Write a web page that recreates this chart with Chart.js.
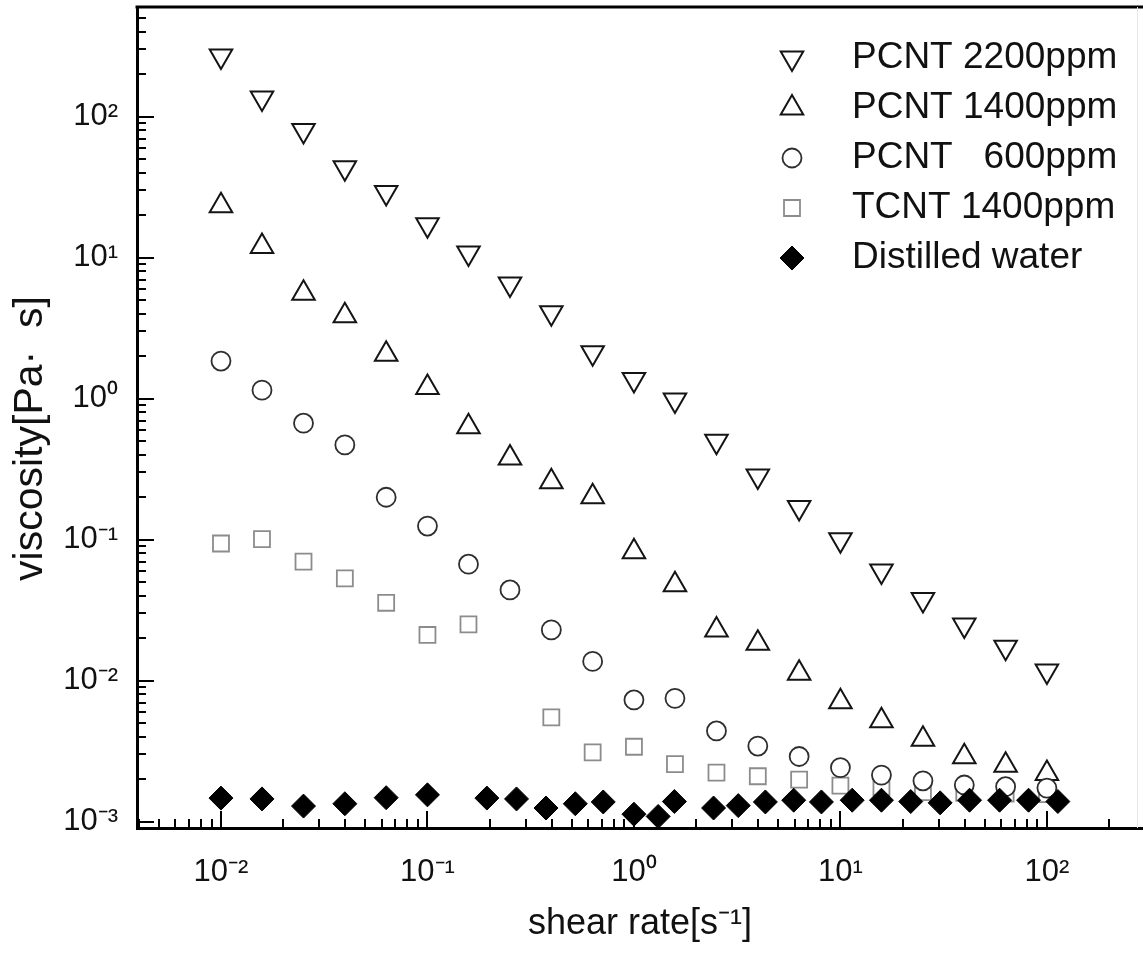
<!DOCTYPE html>
<html>
<head>
<meta charset="utf-8">
<title>viscosity vs shear rate</title>
<style>
    html, body { margin: 0; padding: 0; background: #fff; overflow: hidden; }
    #wrap { width: 1143px; height: 969px; position: relative; }
    #ViscosityChart { display: block; }
</style>
<script src="https://cdn.jsdelivr.net/npm/chart.js@4.4.1/dist/chart.umd.min.js"></script>
</head>
<body>
<div id="wrap"><canvas id="ViscosityChart"></canvas></div>
<script>
// shear rate steps of the CNT runs [1/s]
var shearRate = [0.01, 0.0158, 0.0251, 0.0398, 0.0631, 0.1, 0.158, 0.251, 0.398, 0.631,
    1, 1.58, 2.51, 3.98, 6.31, 10, 15.8, 25.1, 39.8, 63.1, 100];

// viscosity [Pa s]
var pcnt2200 = [269, 136, 80, 43.5, 29, 17.1, 10.8, 6.5, 4.07, 2.12,
    1.37, 0.98, 0.50, 0.283, 0.169, 0.100, 0.060, 0.0377, 0.0248, 0.0173, 0.0117];
var pcnt1400 = [23.4, 12.0, 5.6, 3.88, 2.07, 1.20, 0.633, 0.38, 0.258, 0.202,
    0.082, 0.048, 0.0229, 0.0184, 0.0113, 0.0071, 0.0052, 0.00384, 0.00289, 0.00251, 0.0022];
var pcnt600 = [1.85, 1.15, 0.67, 0.47, 0.2, 0.125, 0.067, 0.044, 0.0229, 0.0137,
    0.0073, 0.0075, 0.0044, 0.00344, 0.0029, 0.00242, 0.00214, 0.00195, 0.00182, 0.00177, 0.00173];
// no TCNT point at 0.251
var tcnt1400 = [0.094, 0.101, 0.0698, 0.0532, 0.0357, 0.0211, 0.0251, null, 0.0055, 0.0031,
    0.0034, 0.00256, 0.00223, 0.0021, 0.00199, 0.0018, 0.00176, 0.00162, 0.0016, 0.00158, 0.00157];

// distilled water was measured on its own rate steps
var waterRate = [0.01, 0.0158, 0.0251, 0.0398, 0.0631, 0.1, 0.194, 0.27, 0.375, 0.52,
    0.71, 1.0, 1.31, 1.57, 2.43, 3.2, 4.33, 5.94, 8.09, 11.4, 15.8, 21.9, 30.4, 42.2, 59, 81.5, 113];
var waterVisc = [0.00147, 0.00145, 0.00129, 0.00134, 0.00148, 0.00155, 0.00147, 0.00145, 0.00125, 0.00134,
    0.00138, 0.00113, 0.00109, 0.00139, 0.00125, 0.0013, 0.00138, 0.00142, 0.00138, 0.00142,
    0.00142, 0.00139, 0.00136, 0.00142, 0.00142, 0.00142, 0.00139];

var seriesNames = ['PCNT 2200ppm', 'PCNT 1400ppm', 'PCNT   600ppm', 'TCNT 1400ppm', 'Distilled water'];

var fontFamily = "'Liberation Sans', Arial, Helvetica, sans-serif";
var superDigits = { '-': '\u207B', '0': '\u2070', '1': '\u00B9', '2': '\u00B2', '3': '\u00B3',
    '4': '\u2074', '5': '\u2075', '6': '\u2076', '7': '\u2077', '8': '\u2078', '9': '\u2079' };

function pairUp(xs, ys) {
    return xs.map(function (x, i) { return { x: x, y: ys[i] }; });
}

function isDecade(v) {
    var e = Math.log10(v);
    return Math.abs(e - Math.round(e)) < 1e-6;
}

function decadeLabel(v) {
    if (!isDecade(v)) {
        return '';
    }
    var exp = String(Math.round(Math.log10(v)));
    return '10' + exp.split('').map(function (c) { return superDigits[c]; }).join('');
}

// 1..9 x 10^k inside the axis range
function logTicks(scale) {
    var ticks = [];
    var k0 = Math.floor(Math.log10(scale.min));
    var k1 = Math.ceil(Math.log10(scale.max));
    for (var k = k0; k <= k1; k++) {
        for (var m = 1; m <= 9; m++) {
            var v = parseFloat((m * Math.pow(10, k)).toPrecision(6));
            if (v >= scale.min && v <= scale.max) {
                ticks.push({ value: v });
            }
        }
    }
    scale.ticks = ticks;
}

// no label overhang padding, the frame fills the canvas like the original
function fixBox(size) {
    return function (scale) {
        if (scale.isHorizontal()) {
            scale.height = size;
        } else {
            scale.width = size;
        }
        scale.paddingLeft = 0;
        scale.paddingRight = 0;
        scale.paddingTop = 0;
        scale.paddingBottom = 0;
    };
}

// Origin-style ticks pointing into the plot, plus the top frame line
var insideTicks = {
    id: 'insideTicks',
    beforeDatasetsDraw: function (chart) {
        var ctx = chart.ctx;
        var area = chart.chartArea;
        var x = chart.scales.x;
        var y = chart.scales.y;

        ctx.save();
        ctx.strokeStyle = '#000';
        ctx.lineWidth = 2;
        x.ticks.forEach(function (t) {
            var px = Math.round(x.getPixelForValue(t.value));
            var len = isDecade(t.value) ? 17 : 9;
            ctx.beginPath();
            ctx.moveTo(px, area.bottom);
            ctx.lineTo(px, area.bottom - len);
            ctx.stroke();
        });
        y.ticks.forEach(function (t) {
            var py = Math.round(y.getPixelForValue(t.value));
            var len = isDecade(t.value) ? 17 : 9;
            ctx.beginPath();
            ctx.moveTo(area.left, py);
            ctx.lineTo(area.left + len, py);
            ctx.stroke();
        });

        ctx.lineWidth = 3;
        ctx.beginPath();
        ctx.moveTo(area.left - 1.5, area.top);
        ctx.lineTo(chart.width, area.top);
        ctx.stroke();

        ctx.strokeStyle = '#e6e6e6';
        ctx.lineWidth = 1;
        ctx.beginPath();
        ctx.moveTo(area.right - 5.5, area.top);
        ctx.lineTo(area.right - 5.5, area.bottom);
        ctx.stroke();
        ctx.restore();
    }
};

// rotated y title, sits a little below the middle of the axis in the original
var yTitle = {
    id: 'yTitle',
    afterDraw: function (chart) {
        var ctx = chart.ctx;
        var area = chart.chartArea;
        ctx.save();
        ctx.translate(42, (area.top + area.bottom) / 2 + 21);
        ctx.rotate(-Math.PI / 2);
        ctx.fillStyle = '#111';
        ctx.font = '41px ' + fontFamily;
        ctx.textAlign = 'center';
        ctx.textBaseline = 'alphabetic';
        ctx.fillText('viscosity[Pa\u00B7  s]', 0, 0);
        ctx.restore();
    }
};

// legend drawn inside the plot, top right
var symbolLegend = {
    id: 'symbolLegend',
    afterDraw: function (chart) {
        var ctx = chart.ctx;
        var markX = 792;
        var textX = 852;
        var rowY = 58;
        var rowGap = 50;

        ctx.save();
        chart.data.datasets.forEach(function (ds, i) {
            var cy = rowY + i * rowGap;
            ctx.fillStyle = ds.backgroundColor;
            ctx.strokeStyle = ds.borderColor;
            ctx.lineWidth = ds.borderWidth;
            Chart.helpers.drawPoint(ctx, {
                pointStyle: ds.pointStyle,
                rotation: ds.pointRotation || 0,
                radius: ds.pointRadius,
                borderWidth: ds.borderWidth
            }, markX, cy);

            ctx.fillStyle = '#111';
            ctx.font = '37px ' + fontFamily;
            ctx.textAlign = 'left';
            ctx.textBaseline = 'middle';
            ctx.fillText(ds.label, textX, cy);
        });
        ctx.restore();
    }
};

var ctx = document.getElementById('ViscosityChart');

var chart = new Chart(ctx, {
    type: 'scatter',
    data: {
        datasets: [{
            label: seriesNames[0],
            data: pairUp(shearRate, pcnt2200),
            pointStyle: 'triangle',
            pointRotation: 180,
            pointRadius: 13,
            borderWidth: 2,
            borderColor: '#141414',
            backgroundColor: '#fff',
            order: 2
        }, {
            label: seriesNames[1],
            data: pairUp(shearRate, pcnt1400),
            pointStyle: 'triangle',
            pointRadius: 13,
            borderWidth: 2,
            borderColor: '#141414',
            backgroundColor: '#fff',
            order: 2
        }, {
            label: seriesNames[2],
            data: pairUp(shearRate, pcnt600),
            pointStyle: 'circle',
            pointRadius: 9.5,
            borderWidth: 1.8,
            borderColor: '#2e2e2e',
            backgroundColor: '#fff',
            order: 1
        }, {
            label: seriesNames[3],
            data: pairUp(shearRate, tcnt1400),
            pointStyle: 'rect',
            pointRadius: 11.3,
            borderWidth: 1.8,
            borderColor: '#8c8c8c',
            backgroundColor: '#fff',
            order: 3
        }, {
            label: seriesNames[4],
            data: pairUp(waterRate, waterVisc),
            pointStyle: 'rectRot',
            pointRadius: 12,
            borderWidth: 1,
            borderColor: '#000',
            backgroundColor: '#000',
            order: 0
        }]
    },
    options: {
        responsive: true,
        maintainAspectRatio: false,
        animation: false,
        events: [],
        layout: {
            autoPadding: false,
            padding: { top: 7, right: 0, bottom: 0, left: 0 }
        },
        plugins: {
            legend: { display: false },
            tooltip: { enabled: false }
        },
        scales: {
            x: {
                type: 'logarithmic',
                min: 0.00392,
                max: 292,
                afterFit: fixBox(141),
                afterBuildTicks: logTicks,
                border: { display: true, width: 3, color: '#000' },
                grid: { drawOnChartArea: false, drawTicks: false },
                ticks: {
                    autoSkip: false,
                    maxRotation: 0,
                    padding: 26,
                    color: '#111',
                    font: { size: 31, family: fontFamily },
                    callback: function (value) { return decadeLabel(value); }
                },
                title: {
                    display: true,
                    text: 'shear rate[s\u207B\u00B9]',
                    color: '#111',
                    font: { size: 36, family: fontFamily },
                    padding: { top: 0, bottom: 23 }
                }
            },
            y: {
                type: 'logarithmic',
                min: 0.000902,
                max: 600,
                afterFit: fixBox(137),
                afterBuildTicks: logTicks,
                border: { display: true, width: 3, color: '#000' },
                grid: { drawOnChartArea: false, drawTicks: false },
                ticks: {
                    autoSkip: false,
                    padding: 19,
                    color: '#111',
                    font: { size: 31, family: fontFamily },
                    callback: function (value) { return decadeLabel(value); }
                },
                title: { display: false }
            }
        }
    },
    plugins: [insideTicks, yTitle, symbolLegend]
});
</script>
</body>
</html>
